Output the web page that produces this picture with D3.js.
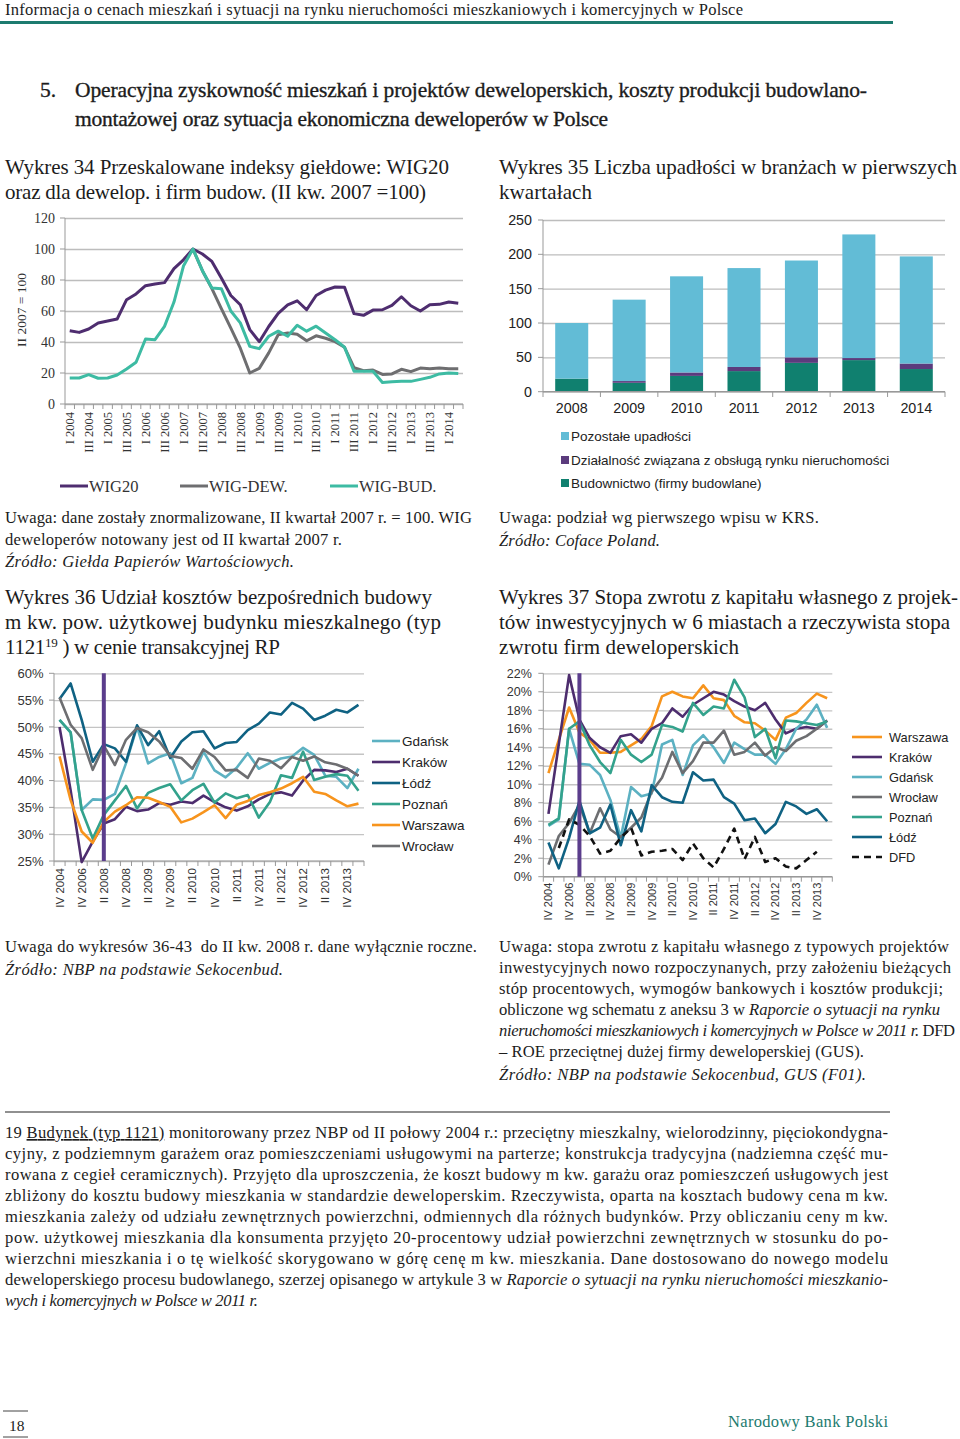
<!DOCTYPE html>
<html><head><meta charset="utf-8">
<script src="https://cdn.jsdelivr.net/npm/d3@7"></script>
<style>body{margin:0;background:#fff;}svg{display:block;}</style>
</head><body>
<svg id="page" width="960" height="1439"></svg>
<script>
// ---------------- DATA ----------------
const cats34 = ["I 2004","II 2004","III 2004","IV 2004","I 2005","II 2005","III 2005","IV 2005",
"I 2006","II 2006","III 2006","IV 2006","I 2007","II 2007","III 2007","IV 2007",
"I 2008","II 2008","III 2008","IV 2008","I 2009","II 2009","III 2009","IV 2009",
"I 2010","II 2010","III 2010","IV 2010","I 2011","II 2011","III 2011","IV 2011",
"I 2012","II 2012","III 2012","IV 2012","I 2013","II 2013","III 2013","IV 2013",
"I 2014","II 2014"];
const wig20 = [47.3,46.2,48.4,52.3,53.5,54.8,67.3,71,76.3,77.4,78.3,87.3,93,100,96.8,92,81.3,70,64,48,40.2,50,58.5,64,66.6,60.8,70,73.5,75.5,75.3,58.3,57.2,60.6,60.8,63.6,69.2,63.4,60,64,64.3,65.8,65];
const wigDew = [null,null,null,null,null,null,null,null,null,null,null,null,null,100,86,74.5,61.5,49,36,20,23,33,44.7,45.8,45,40.8,44,42.4,40.2,36.6,23.4,21.5,21.9,19.1,19.4,22.4,20.9,23.2,22.8,23.2,22.8,22.8];
const wigBud = [16.8,16.8,18.9,16.6,16.8,18.7,22.6,26.9,41.9,41.5,50.1,65.8,89,100,86,74.8,74.4,60,52.3,37.2,35.7,43.7,47,43.7,50.8,47,50.2,45.8,41.5,36.6,21.1,21.1,21.1,13.9,14.4,14.6,14.6,15.9,17.2,19.4,20,19.6];
const ticks34 = [0,20,40,60,80,100,120];

const years35 = ["2008","2009","2010","2011","2012","2013","2014"];
const budownictwo = [19,13,23,30,42,46,33];
const dzialalnosc = [0,2.5,5,6,8,3,8];
const pozostale = [81,118.5,140,144,141,180,156];
const ticks35 = [0,50,100,150,200,250];

const catsQ = ["IV 2004","IV 2005","IV 2006","IV 2007","II 2008","III 2008","IV 2008",
"I 2009","II 2009","III 2009","IV 2009","I 2010","II 2010","III 2010","IV 2010",
"I 2011","II 2011","III 2011","IV 2011","I 2012","II 2012","III 2012","IV 2012",
"I 2013","II 2013","III 2013","IV 2013","I 2014"];

const gdansk36 = [51.3,49,34.5,36.5,36.4,37.5,43.2,50,43.2,44.4,45.1,39.5,40.5,45.4,41.9,40.6,42.4,45.1,42.2,43.3,44.1,44.5,46.1,44.8,40.9,40.7,38.6,42.2];
const krakow36 = [50,38.2,24.8,28.6,32,32.8,35.1,34.3,34.6,35.8,35.5,36.1,35.8,37.2,36,35,34.4,35.2,36.5,37.5,37.8,37.2,40,42,41.9,41.6,42.2,40.9];
const lodz36 = [55.2,58.1,51.3,43.5,46.8,46,43.5,50.3,46.6,49.2,44.2,47.3,49,49.2,46,47,47.2,49.4,50.6,52.7,52.3,54.5,53.4,51.3,52.1,53.2,52.7,54.1];
const poznan36 = [51.3,49,34.5,29.2,33.6,36.3,39,34.8,37.7,38.6,39.3,36.3,38.2,39.4,35.9,37.6,36.7,37.3,33.1,36,41,40.5,45.4,40.1,40.7,41.2,40.9,38.1];
const warszawa36 = [44.5,36.4,30.5,28.4,32.3,34.2,35.4,36.9,36.8,36,35.1,32.2,32.9,34.1,35.4,33,35.5,36.2,37.3,37.8,38.5,39.5,40.7,37.9,37.5,36.3,35.2,35.7];
const wroclaw36 = [55.5,50.4,47.9,42,46.5,42.9,47.6,49.8,49,47.3,44.6,44.2,42.2,45.8,44.4,41.9,42,40.5,44.1,43.7,42.3,44.4,43.7,44.5,43.4,43,42.2,40.9];
const ticks36 = [25,30,35,40,45,50,55,60];
const marker36 = "II 2008";

const warszawa37 = [11.2,14.8,18.3,15.6,14.8,13.4,13.4,13.5,14.2,14.9,16.3,19.5,20,19.5,19.3,20.7,19.3,19.1,17.4,16.7,16.6,15.8,14.8,17.2,17.7,18.8,19.8,19.3];
const krakow37 = [6.8,14.3,21.8,17,15,14,13.4,15.2,15.4,14.5,16,16.6,18.2,17.3,18.6,19.3,20,19.7,19,18.4,18,18.8,17,15.5,16,16.2,16,16.9];
const gdansk37 = [5.5,6.2,16,12.2,12.1,11,8.3,4.2,9.7,8.7,9,14.3,14.8,11,14.2,15.3,14,12.3,14.5,13.8,13.2,13.2,12.2,13.8,16,17,18.6,16.1];
const wroclaw37 = [1.3,4.4,5.8,7.8,4.7,7.4,5.1,4.3,5.3,6.4,9.2,10.7,13.5,11.2,12.5,14.5,14.5,15.8,13.2,13.5,14.5,13.1,14,13.6,14.7,15.2,16,16.9];
const poznan37 = [5.6,6.3,16,16.8,14.2,12.4,11.2,14.8,13.2,12.4,13.2,16.4,16.2,15.7,18.8,17.5,18.4,18.2,21.3,19.4,15.1,16,12.8,16.9,16.8,16.6,16.4,16.8];
const lodz37 = [3.7,0.9,4.2,8.2,4.7,5.3,7.8,3.4,7.2,4.9,9.9,8.6,8.1,8,11.3,10.4,10.5,8.6,7.9,6.1,6.3,4.7,5.7,8.1,7.6,6.8,7.3,6];
const dfd37 = [null,3.1,6.2,5.6,4.4,2.5,2.8,4.2,5.3,2.3,2.7,2.8,3,1.8,3.6,2,1,3,5.2,1.9,4.3,1.6,2,1.1,0.9,1.8,2.7,null];
const ticks37 = [0,2,4,6,8,10,12,14,16,18,20,22];
const marker37 = "IV 2007";

// ---------------- STYLE ----------------
const SERIF = "'Liberation Serif','Times New Roman',serif";
const SANS = "'Liberation Sans',Arial,sans-serif";
const INK = "#1c1c1c";
const TEAL = "#1d7b6f";
const C = {
  purple:"#4e2d6f", gray:"#6e6e70", bud:"#3dbba3",
  poz:"#62bcd6", dz:"#5b3b7d", bd:"#10806f",
  warszawa:"#f7941d", krakow:"#4d2d6e", gdansk:"#5cb1c2", wroclaw:"#6d6e71",
  poznan:"#33a28c", lodz:"#0f6283", marker:"#5b3d8c"
};
const TS = 21;    // chart title size
const BS = 16.6;  // body text size

const svg = d3.select("#page");
svg.append("rect").attr("width",960).attr("height",1439).attr("fill","#fff");

function text(x, y, content, o = {}) {
  const size = o.size || BS;
  const t = svg.append("text").attr("x",x).attr("y",y)
    .attr("font-family", o.font || SERIF).attr("font-size", size)
    .attr("fill", o.fill || INK).attr("text-anchor", o.anchor || "start");
  if (o.italic) t.attr("font-style","italic");
  if (o.pre) t.style("white-space","pre");
  if (o.stroke) t.attr("stroke", o.fill || INK).attr("stroke-width", o.stroke);
  if (typeof content === "string") t.text(content);
  else content.forEach(p => {
    const s = t.append("tspan").text(p.t);
    if (p.i) s.attr("font-style","italic");
    if (p.u) s.attr("text-decoration","underline");
    if (p.sup) s.attr("baseline-shift","super").attr("font-size", size*0.62);
  });
  if (o.w) t.attr("textLength", o.w).attr("lengthAdjust","spacing");
  return t;
}

// ---------------- PAGE TEXT ----------------
text(5, 15, "Informacja o cenach mieszkań i sytuacji na rynku nieruchomości mieszkaniowych i komercyjnych w Polsce", {size:16.5, w:738});
svg.append("rect").attr("x",0).attr("y",21).attr("width",893).attr("height",3).attr("fill",TEAL);

text(40, 97, "5.", {size:21.5, stroke:0.35});
text(75, 97, "Operacyjna zyskowność mieszkań i projektów deweloperskich, koszty produkcji budowlano-", {size:21.5, w:792, stroke:0.35});
text(75, 126, "montażowej oraz sytuacja ekonomiczna deweloperów w Polsce", {size:21.5, w:533, stroke:0.35});

text(5, 174, "Wykres 34 Przeskalowane indeksy giełdowe: WIG20", {size:TS, w:444});
text(5, 199, "oraz dla dewelop. i firm budow. (II kw. 2007 =100)", {size:TS, w:421});
text(499, 174, "Wykres 35 Liczba upadłości w branżach w pierwszych", {size:TS, w:458});
text(499, 199, "kwartałach", {size:TS, w:93});

text(5, 523, "Uwaga: dane zostały znormalizowane, II kwartał 2007 r. = 100. WIG", {w:467});
text(5, 545, "deweloperów notowany jest od II kwartał 2007 r.", {w:337});
text(5, 567, "Źródło: Giełda Papierów Wartościowych.", {w:289, italic:true});
text(499, 523, "Uwaga: podział wg pierwszego wpisu w KRS.", {w:320});
text(499, 546, "Źródło: Coface Poland.", {w:161, italic:true});

text(5, 604, "Wykres 36 Udział kosztów bezpośrednich budowy", {size:TS, w:427});
text(5, 629, "m kw. pow. użytkowej budynku mieszkalnego (typ", {size:TS, w:436});
text(5, 654, [{t:"1121"},{t:"19",sup:true},{t:" ) w cenie transakcyjnej RP"}], {size:TS, w:275});
text(499, 604, "Wykres 37 Stopa zwrotu z kapitału własnego z projek-", {size:TS, w:459});
text(499, 629, "tów inwestycyjnych w 6 miastach a rzeczywista stopa", {size:TS, w:451});
text(499, 654, "zwrotu firm deweloperskich", {size:TS, w:240});

text(5, 952, "Uwaga do wykresów 36-43  do II kw. 2008 r. dane wyłącznie roczne.", {w:472, pre:true});
text(5, 975, "Źródło: NBP na podstawie Sekocenbud.", {w:278, italic:true});

text(499, 952, "Uwaga: stopa zwrotu z kapitału własnego z typowych projektów", {w:450});
text(499, 973, "inwestycyjnych nowo rozpoczynanych, przy założeniu bieżących", {w:452});
text(499, 994, "stóp procentowych, wymogów bankowych i kosztów produkcji;", {w:444});
text(499, 1015, [{t:"obliczone wg schematu z aneksu 3 w "},{t:"Raporcie o sytuacji na rynku",i:true}], {w:441});
text(499, 1036, [{t:"nieruchomości mieszkaniowych i komercyjnych w Polsce w 2011 r.",i:true},{t:" DFD"}], {w:456});
text(499, 1057, "– ROE przeciętnej dużej firmy deweloperskiej (GUS).", {w:365});
text(499, 1080, "Źródło: NBP na podstawie Sekocenbud, GUS (F01).", {w:367, italic:true});

svg.append("line").attr("x1",5).attr("x2",890).attr("y1",1112).attr("y2",1112).attr("stroke","#222").attr("stroke-width",1.2);
const foot = [
  [{t:"19 "},{t:"Budynek (typ 1121)",u:true},{t:" monitorowany przez NBP od II połowy 2004 r.: przeciętny mieszkalny, wielorodzinny, pięciokondygna-"}],
  "cyjny, z podziemnym garażem oraz pomieszczeniami usługowymi na parterze; konstrukcja tradycyjna (nadziemna część mu-",
  "rowana z cegieł ceramicznych). Przyjęto dla uproszczenia, że koszt budowy m kw. garażu oraz pomieszczeń usługowych jest",
  "zbliżony do kosztu budowy mieszkania w standardzie deweloperskim. Rzeczywista, oparta na kosztach budowy cena m kw.",
  "mieszkania zależy od udziału zewnętrznych powierzchni, odmiennych dla różnych budynków. Przy obliczaniu ceny m kw.",
  "pow. użytkowej mieszkania dla konsumenta przyjęto 20-procentowy udział powierzchni zewnętrznych w stosunku do po-",
  "wierzchni mieszkania i o tę wielkość skorygowano w górę cenę m kw. mieszkania. Dane dostosowano do nowego modelu",
  [{t:"deweloperskiego procesu budowlanego, szerzej opisanego w artykule 3 w "},{t:"Raporcie o sytuacji na rynku nieruchomości mieszkanio-",i:true}]
];
foot.forEach((l,i) => text(5, 1138 + 21*i, l, {w:883}));
text(5, 1306, "wych i komercyjnych w Polsce w 2011 r.", {w:253, italic:true});

svg.append("line").attr("x1",3).attr("x2",28).attr("y1",1411).attr("y2",1411).attr("stroke","#444");
svg.append("line").attr("x1",3).attr("x2",28).attr("y1",1437).attr("y2",1437).attr("stroke","#444");
text(9, 1431, "18", {size:15.5});
text(728, 1427, "Narodowy Bank Polski", {size:16.5, w:160, fill:TEAL});

// ---------------- LINE CHART HELPER ----------------
function lineChart(o) {
  const x = d3.scaleBand().domain(o.cats).range([o.x0, o.x1]);
  const y = d3.scaleLinear().domain(o.ydom).range([o.yb, o.yt]);
  const g = svg.append("g");
  const gy = g.append("g").attr("transform",`translate(${o.x0},0)`)
    .call(d3.axisLeft(y).tickValues(o.yticks).tickSize(-(o.x1-o.x0)).tickPadding(o.pad).tickFormat(o.yfmt));
  gy.select(".domain").remove();
  gy.selectAll(".tick line").attr("stroke", o.grid).attr("stroke-width", o.gridW);
  gy.selectAll(".tick text").attr("font-family",o.font).attr("font-size",o.fs).attr("fill","#333");
  g.selectAll(null).data(o.yticks).enter().append("line")
    .attr("x1",o.x0-5).attr("x2",o.x0).attr("y1",d=>y(d)).attr("y2",d=>y(d)).attr("stroke","#999");
  g.append("line").attr("x1",o.x0).attr("x2",o.x0).attr("y1",y(o.ydom[1])).attr("y2",y(o.ydom[0])).attr("stroke","#999");
  g.append("line").attr("x1",o.x0).attr("x2",o.x1).attr("y1",y(o.ydom[0])).attr("y2",y(o.ydom[0])).attr("stroke","#999").attr("stroke-width",1.2);
  const bounds = o.cats.map(c => x(c)).concat([o.x1]);
  g.selectAll(null).data(bounds).enter().append("line")
    .attr("x1",d=>d).attr("x2",d=>d).attr("y1",y(o.ydom[0])).attr("y2",y(o.ydom[0])+5).attr("stroke","#999");
  const gx = g.append("g").attr("transform",`translate(0,${y(o.ydom[0])})`)
    .call(d3.axisBottom(x).tickValues(o.cats.filter((d,i)=>i%2===0)).tickSize(0));
  gx.select(".domain").remove();
  gx.selectAll("text").attr("transform","rotate(-90)").attr("x",-o.labOff).attr("y",0).attr("dy","0.35em")
    .attr("text-anchor","end").attr("font-family",o.font).attr("font-size",o.xfs).attr("fill","#333");
  const line = d3.line().defined(d => d != null)
    .x((d,i) => x(o.cats[i]) + x.bandwidth()/2).y(d => y(d));
  o.series.forEach(s => {
    g.append("path").datum(s.values).attr("d", line).attr("fill","none")
      .attr("stroke", s.color).attr("stroke-width", o.lw).attr("stroke-linejoin","round")
      .attr("stroke-dasharray", s.dash || null);
  });
  if (o.marker) {
    const mx = x(o.marker) + x.bandwidth()/2;
    g.append("line").attr("x1",mx).attr("x2",mx).attr("y1",y(o.ydom[1])).attr("y2",y(o.ydom[0]))
      .attr("stroke",C.marker).attr("stroke-width",4);
  }
  return {x, y};
}

// ---------------- CHART 34 ----------------
lineChart({
  cats: cats34, x0:65, x1:463, yb:404, yt:218, ydom:[0,120], yticks:ticks34, yfmt:d=>d,
  pad:10, font:SERIF, fs:14, xfs:12.5, labOff:8, grid:"#bdbdbd", gridW:1.6, lw:3,
  series:[{values:wig20,color:C.purple},{values:wigDew,color:C.gray},{values:wigBud,color:C.bud}]
});
svg.append("text").attr("transform","translate(26,310) rotate(-90)").attr("text-anchor","middle")
  .attr("font-family",SERIF).attr("font-size",13.5).attr("fill","#333").text("II 2007 = 100");
[["WIG20",C.purple,60],["WIG-DEW.",C.gray,180],["WIG-BUD.",C.bud,330]].forEach(([n,c,lx]) => {
  svg.append("line").attr("x1",lx).attr("x2",lx+28).attr("y1",486).attr("y2",486).attr("stroke",c).attr("stroke-width",3);
  text(lx+29, 491.5, n, {size:16.5, fill:"#333"});
});

// ---------------- CHART 35 ----------------
(function(){
  const table = years35.map((yr,i) => ({yr, bud:budownictwo[i], dz:dzialalnosc[i], poz:pozostale[i]}));
  const keys = ["bud","dz","poz"], cols = {bud:C.bd, dz:C.dz, poz:C.poz};
  const x = d3.scaleBand().domain(years35).range([543,945]).paddingInner(0.425).paddingOuter(0.2125);
  const y = d3.scaleLinear().domain([0,250]).range([391.7,220]);
  const g = svg.append("g");
  const gy = g.append("g").attr("transform","translate(543,0)")
    .call(d3.axisLeft(y).tickValues(ticks35).tickSize(-402).tickPadding(11));
  gy.select(".domain").remove();
  gy.selectAll(".tick line").attr("stroke","#bdbdbd").attr("stroke-width",1.3);
  gy.selectAll(".tick text").attr("font-family",SANS).attr("font-size",14.3).attr("fill","#222");
  g.selectAll(null).data(ticks35).enter().append("line").attr("x1",538).attr("x2",543)
    .attr("y1",d=>y(d)).attr("y2",d=>y(d)).attr("stroke","#999");
  g.append("line").attr("x1",543).attr("x2",543).attr("y1",220).attr("y2",391.7).attr("stroke","#999");
  const step = x.step();
  g.selectAll(null).data(d3.range(8)).enter().append("line")
    .attr("x1",d=>543+d*step).attr("x2",d=>543+d*step).attr("y1",391.7).attr("y2",397).attr("stroke","#999");
  const stack = d3.stack().keys(keys)(table);
  stack.forEach(layer => {
    g.selectAll(null).data(layer).enter().append("rect")
      .attr("x",d=>x(d.data.yr)).attr("width",x.bandwidth())
      .attr("y",d=>y(d[1])).attr("height",d=>y(d[0])-y(d[1])).attr("fill",cols[layer.key]);
  });
  g.append("line").attr("x1",543).attr("x2",945).attr("y1",391.7).attr("y2",391.7).attr("stroke","#999").attr("stroke-width",1.2);
  const gx = g.append("g").attr("transform","translate(0,391.7)").call(d3.axisBottom(x).tickSize(0).tickPadding(11));
  gx.select(".domain").remove();
  gx.selectAll("text").attr("font-family",SANS).attr("font-size",14.3).attr("fill","#222");
  [["Pozostałe upadłości",C.poz,436],["Działalność związana z obsługą rynku nieruchomości",C.dz,460],["Budownictwo (firmy budowlane)",C.bd,483]]
    .forEach(([n,c,ly]) => {
      g.append("rect").attr("x",561).attr("y",ly-4).attr("width",8).attr("height",8).attr("fill",c);
      text(571, ly+5, n, {font:SANS, size:13.5, fill:"#222"});
    });
})();

// ---------------- CHART 36 ----------------
lineChart({
  cats: catsQ, x0:54, x1:364, yb:861, yt:673.3, ydom:[25,60], yticks:ticks36, yfmt:d=>d+"%",
  pad:10.5, font:SANS, fs:13, xfs:11.5, labOff:7, grid:"#c4c4c4", gridW:1.3, lw:2.6, marker:marker36,
  series:[{values:gdansk36,color:C.gdansk},{values:krakow36,color:C.krakow},{values:lodz36,color:C.lodz},
          {values:poznan36,color:C.poznan},{values:warszawa36,color:C.warszawa},{values:wroclaw36,color:C.wroclaw}]
});
[["Gdańsk",C.gdansk],["Kraków",C.krakow],["Łódź",C.lodz],["Poznań",C.poznan],["Warszawa",C.warszawa],["Wrocław",C.wroclaw]]
  .forEach(([n,c],i) => {
    const ly = 741 + 21*i;
    svg.append("line").attr("x1",372).attr("x2",400).attr("y1",ly).attr("y2",ly).attr("stroke",c).attr("stroke-width",2.6);
    text(402, ly+5, n, {font:SANS, size:13.5, fill:"#222"});
  });

// ---------------- CHART 37 ----------------
lineChart({
  cats: catsQ, x0:543.3, x1:832.3, yb:876.7, yt:673.3, ydom:[0,22], yticks:ticks37, yfmt:d=>d+"%",
  pad:11.5, font:SANS, fs:12.5, xfs:11, labOff:6, grid:"#c4c4c4", gridW:1.3, lw:2.6, marker:marker37,
  series:[{values:warszawa37,color:C.warszawa},{values:krakow37,color:C.krakow},{values:gdansk37,color:C.gdansk},
          {values:wroclaw37,color:C.wroclaw},{values:poznan37,color:C.poznan},{values:lodz37,color:C.lodz},
          {values:dfd37,color:"#111",dash:"7,5"}]
});
[["Warszawa",C.warszawa],["Kraków",C.krakow],["Gdańsk",C.gdansk],["Wrocław",C.wroclaw],["Poznań",C.poznan],["Łódź",C.lodz],["DFD","#111"]]
  .forEach(([n,c],i) => {
    const ly = 737 + 20*i;
    svg.append("line").attr("x1",852).attr("x2",882).attr("y1",ly).attr("y2",ly).attr("stroke",c).attr("stroke-width",2.6)
      .attr("stroke-dasharray", n==="DFD" ? "7,5" : null);
    text(889, ly+4.5, n, {font:SANS, size:12.8, fill:"#222"});
  });
</script>
</body></html>
